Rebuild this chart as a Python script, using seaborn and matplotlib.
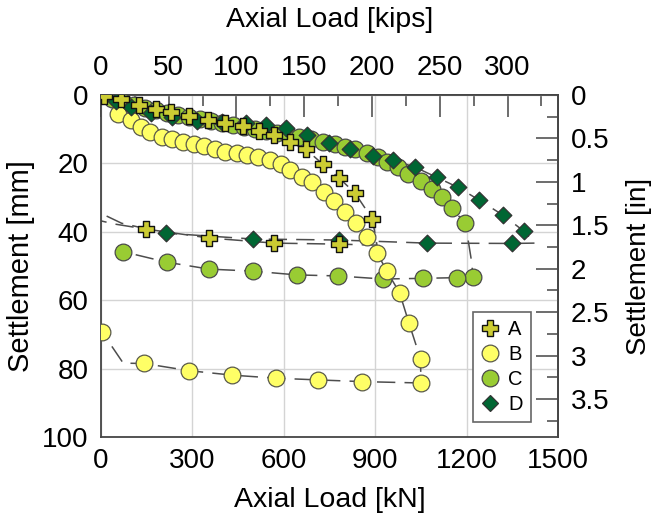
import matplotlib
matplotlib.use("Agg")
import matplotlib.pyplot as plt
import numpy as np
import pandas as pd
import seaborn as sns
from matplotlib.ticker import MultipleLocator, FixedLocator, FuncFormatter
from matplotlib.lines import Line2D

# ---------------- data (load in kN, settlement in mm) ----------------
A_load = [10, 66, 125, 181, 230, 289, 351, 407, 466, 519, 568, 620, 673, 729, 781, 834, 891,
          906, 781, 568, 354, 148, 43, 0]
A_settle = [0.2, 1.3, 2.9, 4.1, 5.1, 6.1, 7.2, 8.1, 9.1, 10.4, 11.8, 13.7, 15.9, 20.3, 24.2, 28.7, 36.3,
            43.9, 43.6, 43.3, 41.8, 39.2, 37.7, 36.8]
A_line_only = [17, 22, 23]

B_load = [0, 56, 98, 131, 161, 200, 233, 269, 305, 338, 374, 407, 446, 479, 515, 555, 591, 620, 659, 692,
          732, 765, 801, 837, 874, 907, 939, 980, 1011, 1049, 1050, 857, 712, 574, 430, 289, 141, 73, 3]
B_settle = [0, 5.6, 7.3, 9.3, 10.9, 12.2, 12.9, 13.7, 14.3, 14.9, 15.8, 16.6, 17.0, 17.6, 18.2, 19.0, 20.3,
            21.8, 23.9, 25.4, 28.5, 30.9, 34.3, 37.5, 41.6, 46.3, 51.6, 57.8, 66.7, 77.2, 84.2,
            83.8, 83.3, 82.8, 81.9, 80.6, 78.5, 78.4, 69.2]
B_line_only = [37]

C_load = [0, 36, 72, 108, 144, 181, 217, 253, 289, 325, 361, 397, 433, 469, 505, 542, 578, 614, 650, 689,
          729, 768, 801, 834, 873, 909, 939, 975, 1008, 1050, 1086, 1119, 1152, 1195, 1206, 1217,
          1221, 1168, 1057, 926, 778, 643, 499, 355, 217, 72]
C_settle = [0, 1.2, 2.0, 2.9, 3.8, 4.5, 5.3, 5.8, 6.4, 7.0, 7.6, 8.2, 8.8, 9.4, 9.9, 10.5, 11.1, 11.7, 12.3,
            12.9, 13.7, 14.3, 15.1, 15.8, 16.9, 18.2, 19.5, 21.1, 23.1, 25.1, 27.6, 29.9, 33.1, 37.5,
            42.9, 49.0, 53.2, 53.4, 53.6, 53.8, 52.9, 52.6, 51.5, 50.9, 48.9, 45.8]
C_line_only = [34, 35]

D_load = [0, 49, 98, 164, 233, 315, 397, 476, 542, 607, 676, 748, 817, 893, 958, 1031, 1103, 1172, 1241,
          1319, 1388, 1424, 1348, 1069, 781, 498, 213, 68, 0]
D_settle = [0, 1.8, 3.5, 5.3, 6.4, 7.6, 7.9, 8.2, 8.8, 9.6, 11.7, 13.9, 15.9, 17.8, 19.0, 21.1, 24.1, 27.0,
            30.7, 35.1, 39.8, 43.3, 43.4, 43.3, 42.4, 42.1, 40.4, 37.5, 34.6]
D_line_only = [21, 27, 28]

series_names = ["A", "B", "C", "D"]
kN_ticks = [0, 300, 600, 900, 1200, 1500]
mm_ticks = [0, 20, 40, 60, 80, 100]
kip_ticks = [0, 50, 100, 150, 200, 250, 300]
in_ticks = [0, 0.5, 1, 1.5, 2, 2.5, 3, 3.5]

# ---------------- style ----------------
sns.set_style("white")
plt.rcParams["font.family"] = ["Liberation Sans", "DejaVu Sans"]
plt.rcParams["text.color"] = "black"
plt.rcParams["axes.labelcolor"] = "black"
plt.rcParams["xtick.color"] = "black"
plt.rcParams["ytick.color"] = "black"
TICK_FS = 20
TITLE_FS = 20.5
VLABEL_FS = 21

styles = {
    "A": dict(marker="P", s=125, color="#cccc33", edgecolor="#111111", linewidth=1.0),
    "B": dict(marker="o", s=145, color="#ffff66", edgecolor="#5a5a4a", linewidth=0.9),
    "C": dict(marker="o", s=145, color="#99cc33", edgecolor="#4a4a4a", linewidth=0.9),
    "D": dict(marker="D", s=72, color="#006633", edgecolor="#333333", linewidth=0.9),
}
zorders = {"C": 3, "B": 4, "D": 5, "A": 6}

data = {
    "A": (A_load, A_settle, A_line_only),
    "B": (B_load, B_settle, B_line_only),
    "C": (C_load, C_settle, C_line_only),
    "D": (D_load, D_settle, D_line_only),
}

fig = plt.figure(figsize=(6.51, 5.21), dpi=100)
ax = fig.add_axes([0.1551, 0.1612, 0.702, 0.6564])

# dashed connecting lines
for name in series_names:
    load, settle, _ = data[name]
    df = pd.DataFrame({"load": load, "settle": settle})
    sns.lineplot(data=df, x="load", y="settle", sort=False, estimator=None, ax=ax,
                 color="#4d4d4d", linewidth=1.1, linestyle=(0, (12, 6)), zorder=2)

# markers
for name in ["C", "B", "D", "A"]:
    load, settle, line_only = data[name]
    df = pd.DataFrame({"load": load, "settle": settle})
    df = df.drop(index=line_only)
    sns.scatterplot(data=df, x="load", y="settle", ax=ax, zorder=zorders[name], **styles[name])

# ---------------- axes ----------------
ax.set_xlim(0, 1500)
ax.set_ylim(100, 0)
ax.set_xticks(kN_ticks)
ax.set_yticks(mm_ticks)
ax.xaxis.set_minor_locator(MultipleLocator(150))
ax.yaxis.set_minor_locator(MultipleLocator(10))
ax.grid(True, which="major", color="#d4d4d4", linewidth=1.0)
ax.set_axisbelow(True)

spine_col = "#454545"
for sp in ax.spines.values():
    sp.set_color(spine_col)
    sp.set_linewidth(1.3)

ax.tick_params(which="major", direction="in", length=0, labelsize=TICK_FS,
               top=False, right=False, labelcolor="black")
ax.tick_params(axis="x", which="major", pad=8)
ax.tick_params(axis="y", which="major", pad=9)
ax.tick_params(which="minor", direction="in", length=8, width=1.1, color=spine_col,
               top=False, right=False)

ax.set_xlabel("Axial Load [kN]", fontsize=TITLE_FS, labelpad=9)
ax.set_ylabel("Settlement [mm]", fontsize=VLABEL_FS, labelpad=5)

KN_PER_KIP = 4.448222
MM_PER_IN = 25.4
secx = ax.secondary_xaxis("top", functions=(lambda x: x / KN_PER_KIP, lambda k: k * KN_PER_KIP))
secx.xaxis.set_major_locator(FixedLocator(kip_ticks))
secx.xaxis.set_minor_locator(MultipleLocator(25))
secx.xaxis.set_major_formatter(FuncFormatter(lambda v, p: f"{v:g}"))
secx.tick_params(which="major", direction="in", length=16, width=1.1, color=spine_col,
                 labelsize=TICK_FS, pad=10, labelcolor="black")
secx.tick_params(which="minor", direction="in", length=8, width=1.1, color=spine_col)
secx.set_xlabel("Axial Load [kips]", fontsize=TITLE_FS, labelpad=20)

secy = ax.secondary_yaxis("right", functions=(lambda m: m / MM_PER_IN, lambda i: i * MM_PER_IN))
secy.yaxis.set_major_locator(FixedLocator(in_ticks))
secy.yaxis.set_minor_locator(MultipleLocator(0.25))
secy.yaxis.set_major_formatter(FuncFormatter(lambda v, p: f"{v:g}"))
secy.tick_params(which="major", direction="in", length=16, width=1.1, color=spine_col,
                 labelsize=TICK_FS, pad=9, labelcolor="black")
secy.tick_params(which="minor", direction="in", length=8, width=1.1, color=spine_col)
secy.set_ylabel("Settlement [in]", fontsize=20, labelpad=12)
for s in (secx, secy):
    for sp in s.spines.values():
        sp.set_color(spine_col)
        sp.set_linewidth(1.3)

# legend
handles = []
for name in series_names:
    st = styles[name]
    ms = np.sqrt(st["s"])
    handles.append(Line2D([], [], linestyle="none", marker=st["marker"], markersize=ms,
                          markerfacecolor=st["color"], markeredgecolor=st["edgecolor"],
                          markeredgewidth=st["linewidth"]))
leg = ax.legend(handles, series_names, loc="upper left", bbox_to_anchor=(0.814, 0.365),
                frameon=True, fancybox=False, framealpha=1, edgecolor="#666666",
                fontsize=14.5, handlelength=0.9, handletextpad=0.45, borderpad=0.4,
                labelspacing=0.3, borderaxespad=0)
leg.get_frame().set_linewidth(1.2)
leg.set_zorder(10)

fig.savefig("out.png", dpi=100)
